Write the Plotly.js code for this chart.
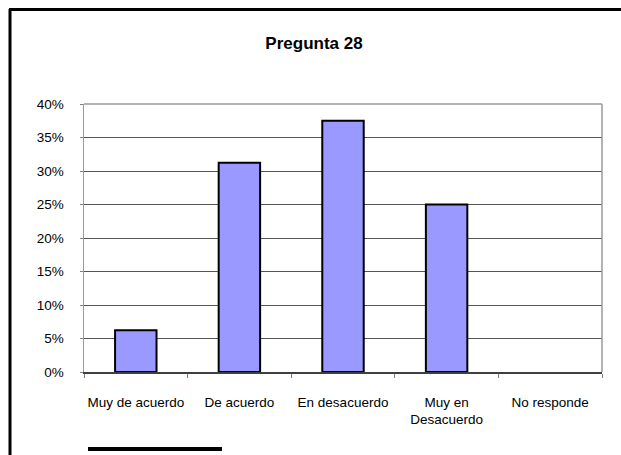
<!DOCTYPE html>
<html>
<head>
<meta charset="utf-8">
<script src="https://cdn.plot.ly/plotly-3.0.1.min.js"></script>
<style>html,body{margin:0;padding:0;background:#fff;}#chart{width:621px;height:455px;}</style>
</head>
<body>
<div id="chart"></div>
<script>
const categories = ["Muy de acuerdo", "De acuerdo", "En desacuerdo", "Muy en<br>Desacuerdo", "No responde"];
const values = [0.0625, 0.3125, 0.375, 0.25, 0];
const yTicks = [0, 0.05, 0.10, 0.15, 0.20, 0.25, 0.30, 0.35, 0.40];
const yTickLabels = ["0%", "5%", "10%", "15%", "20%", "25%", "30%", "35%", "40%"];

const W = 621, H = 455, L = 84, R = 19, T = 104, B = 83;
const pw = W - L - R, ph = H - T - B;
const px = v => (v - L) / pw;
const py = v => (H - B - v) / ph;

const trace = {
  type: "bar",
  x: categories,
  y: values,
  width: 0.4,
  marker: { color: "#9999FF", line: { color: "#000", width: values.map(v => v > 0 ? 2 : 0) } },
  hoverinfo: "skip"
};

const layout = {
  width: W, height: H,
  margin: { l: L, r: R, t: T, b: B, pad: 0 },
  paper_bgcolor: "#fff", plot_bgcolor: "#fff",
  showlegend: false,
  font: { family: "Liberation Sans, Arial, sans-serif", size: 13.5, color: "#000" },
  title: { text: "<b>Pregunta 28</b>", x: px(314), xref: "paper", xanchor: "center", y: 1 - 43 / H, yanchor: "middle", font: { size: 17, color: "#000" } },
  xaxis: {
    type: "category",
    tickson: "boundaries",
    tickangle: 0,
    ticks: "outside", ticklen: 4, tickcolor: "#808080", tickwidth: 1,
    showline: true, linecolor: "#404040", linewidth: 1.5,
    showgrid: false, zeroline: false,
    ticklabelstandoff: 17,
    tickfont: { size: 13.5 },
    fixedrange: true
  },
  yaxis: {
    range: [0, 0.40],
    tickvals: yTicks, ticktext: yTickLabels,
    ticks: "outside", ticklen: 3, tickcolor: "#808080",
    showline: true, linecolor: "#999", linewidth: 1.5,
    showgrid: true, gridcolor: "#555", gridwidth: 1,
    zeroline: false,
    ticklabelstandoff: 13,
    tickfont: { size: 13.5 },
    fixedrange: true
  },
  shapes: [
    { type: "line", xref: "paper", yref: "paper", x0: 0, x1: 1, y0: 1, y1: 1, line: { color: "#999", width: 1.5 } },
    { type: "line", xref: "paper", yref: "paper", x0: 1, x1: 1, y0: 0, y1: 1, line: { color: "#999", width: 1.5 } },
    { type: "line", xref: "paper", yref: "paper", x0: px(10), x1: px(10), y0: py(9), y1: py(460), line: { color: "#000", width: 3 } },
    { type: "line", xref: "paper", yref: "paper", x0: px(9), x1: px(625), y0: py(9.5), y1: py(9.5), line: { color: "#000", width: 3 } },
    { type: "line", xref: "paper", yref: "paper", x0: px(88), x1: px(222), y0: py(449), y1: py(449), line: { color: "#000", width: 4 } }
  ]
};

Plotly.newPlot("chart", [trace], layout, { staticPlot: true, displayModeBar: false });
</script>
</body>
</html>
